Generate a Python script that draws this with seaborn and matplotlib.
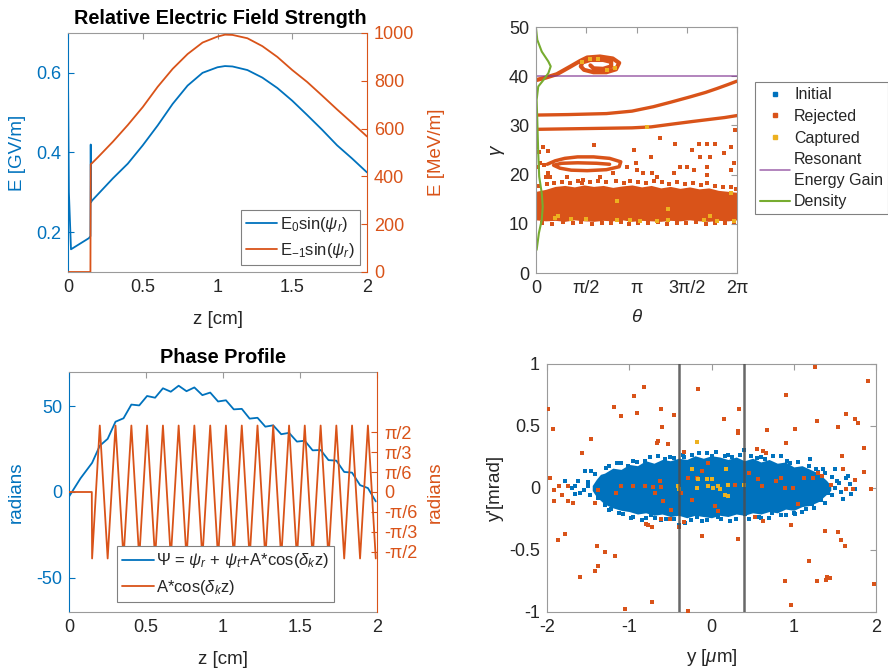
import matplotlib
matplotlib.use("Agg")
import matplotlib.pyplot as plt
import seaborn as sns
from matplotlib.lines import Line2D

sns.set_theme(style="white")
plt.rcParams["font.family"] = ["Liberation Sans", "DejaVu Sans"]
plt.rcParams["mathtext.fontset"] = "custom"
plt.rcParams["mathtext.rm"] = "Liberation Sans"
plt.rcParams["mathtext.it"] = "Liberation Sans:italic"
plt.rcParams["mathtext.bf"] = "Liberation Sans:bold"
plt.rcParams["axes.unicode_minus"] = False

BLUE = "#0072BD"
ORANGE = "#D95319"
YELLOW = "#EDB120"
PURPLE = "#7E2F8E"
GREEN = "#77AC30"
BOX = "#9a9a9a"
TXT = "#262626"

# ---------------- Panel 1: Relative Electric Field Strength ----------------
z_e0 = [0.0, 0.006, 0.02, 0.14, 0.150, 0.152, 0.154, 0.16, 0.2, 0.3, 0.4, 0.5, 0.6, 0.7,
        0.8, 0.9, 1.0, 1.05, 1.1, 1.2, 1.3, 1.4, 1.5, 1.6, 1.7, 1.8, 1.9, 2.0]
e0_gv = [0.595, 0.30, 0.157, 0.185, 0.19, 0.42, 0.275, 0.279, 0.295, 0.335, 0.372, 0.418,
         0.468, 0.522, 0.568, 0.600, 0.614, 0.617, 0.616, 0.607, 0.588, 0.562, 0.530,
         0.494, 0.457, 0.418, 0.385, 0.350]
z_em1 = [0.0, 0.150, 0.152, 0.16, 0.2, 0.3, 0.4, 0.5, 0.6, 0.7, 0.8, 0.9, 1.0, 1.05, 1.1,
         1.2, 1.3, 1.4, 1.5, 1.6, 1.7, 1.8, 1.9, 2.0]
em1_mev = [0, 0, 451, 455, 480, 545, 615, 690, 775, 850, 912, 960, 985, 993, 992, 978,
           945, 900, 845, 795, 738, 680, 624, 567]

# ---------------- Panel 2: Phase Profile ----------------
z_osc = [0.0, 0.148, 0.150, 0.200, 0.251, 0.302, 0.354, 0.405, 0.456, 0.507, 0.559, 0.610,
         0.661, 0.712, 0.763, 0.814, 0.866, 0.917, 0.968, 1.019, 1.070, 1.122, 1.173,
         1.224, 1.275, 1.326, 1.378, 1.429, 1.480, 1.531, 1.582, 1.634, 1.685, 1.736,
         1.787, 1.838, 1.890, 1.941, 1.992]
osc_rad = [0, 0, -1.74, 1.74, -1.74, 1.74, -1.74, 1.74, -1.74, 1.74, -1.74, 1.74, -1.74,
           1.74, -1.74, 1.74, -1.74, 1.74, -1.74, 1.74, -1.74, 1.74, -1.74, 1.74, -1.74,
           1.74, -1.74, 1.74, -1.74, 1.74, -1.74, 1.74, -1.74, 1.74, -1.74, 1.74, -1.74,
           1.74, -1.74]
z_psi = [0.0, 0.075, 0.150, 0.200, 0.251, 0.302, 0.354, 0.405, 0.456, 0.507, 0.559, 0.610,
         0.661, 0.712, 0.763, 0.814, 0.866, 0.917, 0.968, 1.019, 1.070, 1.122, 1.173,
         1.224, 1.275, 1.326, 1.378, 1.429, 1.480, 1.531, 1.582, 1.634, 1.685, 1.736,
         1.787, 1.838, 1.890, 1.941, 1.992]
psi_rad = [-2.7, 8.0, 17.0, 27.0, 31.0, 41.0, 43.0, 51.0, 50.5, 56.0, 55.0, 60.5, 58.5,
           62.0, 58.8, 61.0, 56.5, 58.0, 52.8, 53.5, 48.2, 48.5, 42.8, 43.3, 38.1, 38.9,
           33.7, 34.5, 29.4, 29.9, 24.3, 24.5, 18.6, 18.3, 11.7, 11.3, 4.0, 2.3, -5.5]

# ---------------- Panel 3: longitudinal phase space ----------------
theta_band = [0.0, 0.3, 0.6, 0.9, 1.2, 1.5, 1.8, 2.1, 2.4, 2.7, 3.0, 3.3, 3.6, 3.9, 4.2,
              4.5, 4.8, 5.1, 5.4, 5.7, 6.0, 6.283]
band_top = [16.6, 17.0, 17.6, 17.8, 17.5, 17.9, 17.6, 17.8, 17.4, 17.7, 17.9, 17.5, 17.8,
            17.3, 17.6, 17.2, 17.5, 17.1, 17.3, 16.8, 16.6, 16.4]
band_bot = [10.8, 10.6, 10.7, 10.5, 10.8, 10.6, 10.5, 10.7, 10.6, 10.8, 10.5, 10.7, 10.6,
            10.5, 10.7, 10.6, 10.8, 10.6, 10.5, 10.7, 10.6, 10.8]
edge_theta = [0.1, 0.35, 0.55, 0.8, 1.05, 1.3, 1.45, 1.7, 1.95, 2.2, 2.5, 2.75, 2.95, 3.2,
              3.45, 3.7, 3.95, 4.15, 4.4, 4.65, 4.9, 5.15, 5.35, 5.6, 5.85, 6.1, 6.25,
              0.2, 0.5, 0.85, 1.15, 1.4, 1.75, 2.05, 2.35, 2.65, 2.9, 3.2, 3.5, 3.8, 4.1,
              4.4, 4.7, 5.0, 5.3, 5.6, 5.9, 6.2]
edge_gamma = [17.6, 18.0, 18.3, 18.5, 18.2, 18.6, 18.3, 18.5, 18.7, 18.4, 18.6, 18.3, 18.7,
              18.5, 18.2, 18.6, 18.4, 18.1, 18.5, 18.0, 18.3, 17.9, 18.2, 17.6, 17.4, 17.5,
              17.0, 10.2, 10.0, 10.3, 10.1, 10.3, 10.0, 10.2, 10.1, 10.3, 10.0, 10.2, 10.1,
              10.3, 10.0, 10.2, 10.1, 10.3, 10.0, 10.2, 10.1, 10.3]
mid_theta = [0.02, 0.23, 0.39, 0.13, 0.39, 1.82, 3.05, 3.58, 3.13, 3.36, 3.62, 3.88, 4.35,
             4.87, 5.08, 5.34, 5.60, 5.14, 5.45, 5.34, 5.87, 6.08, 6.18, 6.23, 4.51, 4.72,
             2.84, 3.15, 4.93, 6.08, 3.78, 4.30, 5.34, 0.44, 0.96, 1.48, 2.00, 2.42, 0.1,
             0.25, 0.05, 0.3]
mid_gamma = [25.7, 25.7, 24.7, 22.3, 20.3, 26.0, 24.9, 23.6, 22.3, 20.3, 20.3, 27.4, 26.2,
             24.9, 26.2, 26.2, 26.2, 23.6, 23.6, 21.6, 24.3, 25.7, 22.3, 29.1, 21.6, 21.6,
             21.6, 20.9, 20.9, 20.9, 19.6, 20.3, 19.9, 19.6, 19.6, 18.9, 19.6, 20.3, 24.5,
             22.0, 21.5, 19.5]
track_a_theta = [0.0, 1.0, 2.0, 3.0, 3.6, 4.3, 4.9, 5.4, 5.9, 6.283]
track_a_gamma = [29.2, 29.3, 29.4, 29.5, 29.7, 30.3, 30.8, 31.2, 31.6, 32.0]
track_b_theta = [0.0, 1.0, 2.2, 3.0, 3.67, 4.2, 4.82, 5.3, 5.66, 6.0, 6.283]
track_b_gamma = [32.1, 32.2, 32.4, 32.9, 33.8, 34.7, 35.8, 36.7, 37.5, 38.3, 39.0]
spiral_theta = [0.0, 0.3, 0.65, 1.06, 1.38, 1.6, 2.0, 2.4, 2.6, 2.5, 2.2, 1.8, 1.5, 1.4,
                1.45, 1.7, 2.1, 2.35, 2.35, 2.1, 1.8, 1.7]
spiral_gamma = [39.2, 39.7, 40.4, 41.9, 43.1, 43.8, 44.0, 43.6, 42.7, 41.4, 40.8, 40.8,
                41.3, 42.0, 42.8, 43.3, 43.3, 42.9, 42.0, 41.5, 41.6, 42.2]
ring_theta = [0.35, 0.6, 0.9, 1.3, 1.8, 2.3, 2.65, 2.6, 2.2, 1.6, 1.1, 0.75, 0.55, 0.8,
              1.3, 1.9, 2.3]
ring_gamma = [22.1, 22.8, 23.3, 23.6, 23.6, 23.3, 22.6, 21.6, 21.0, 20.8, 20.9, 21.3, 21.9,
              22.3, 22.4, 22.3, 22.1]
init_theta = [0.0, 6.283]
init_gamma = [12.8, 12.8]
cap_theta = [1.43, 1.69, 1.95, 2.21, 2.47, 0.6, 0.7, 1.09, 2.53, 2.53, 2.94, 3.26, 3.78,
             4.14, 4.14, 5.24, 5.45, 5.66, 6.08, 6.18, 3.47, 1.55]
cap_gamma = [42.9, 43.4, 43.4, 41.2, 41.6, 11.1, 11.5, 10.9, 14.7, 10.8, 10.8, 10.5, 10.5,
             13.0, 10.8, 10.8, 11.5, 10.5, 16.2, 10.5, 29.6, 10.9]
res_theta = [0.0, 6.283]
res_gamma = [40.0, 40.0]
dens_theta = [0.0, 0.04, 0.18, 0.385, 0.46, 0.385, 0.23, 0.07, 0.02, 0.04, 0.07, 0.10,
              0.18, 0.21, 0.18, 0.09, 0.02]
dens_gamma = [49.7, 47.4, 45.0, 43.0, 42.0, 40.6, 39.2, 37.9, 35.2, 31.1, 24.3, 19.6,
              16.2, 13.5, 10.8, 8.1, 4.7]
theta_ticks = ["0", "π/2", "π", "3π/2", "2π"]

# ---------------- Panel 4: transverse phase space ----------------
core_y = [-1.45, -1.4, -1.35, -1.3, -1.2, -1.1, -1.0, -0.9, -0.8, -0.7, -0.6, -0.5, -0.4,
          -0.3, -0.2, -0.1, 0.0, 0.1, 0.2, 0.3, 0.4, 0.5, 0.6, 0.7, 0.8, 0.9, 1.0, 1.1,
          1.2, 1.3, 1.35, 1.4, 1.45]
core_top = [0.02, 0.07, 0.11, 0.12, 0.16, 0.15, 0.19, 0.18, 0.22, 0.20, 0.23, 0.22, 0.24,
            0.23, 0.26, 0.24, 0.26, 0.25, 0.23, 0.25, 0.22, 0.24, 0.21, 0.23, 0.20, 0.21,
            0.17, 0.18, 0.15, 0.12, 0.09, 0.06, 0.02]
core_bot = [-0.02, -0.07, -0.10, -0.13, -0.16, -0.18, -0.19, -0.21, -0.20, -0.22, -0.21,
            -0.23, -0.22, -0.24, -0.22, -0.23, -0.24, -0.22, -0.23, -0.21, -0.22, -0.20,
            -0.21, -0.19, -0.20, -0.17, -0.18, -0.15, -0.14, -0.11, -0.08, -0.05, -0.02]
init_y = [-1.54, -1.46, -1.785, -1.66, -1.50, -1.60, -1.66, -1.38, -1.22, -1.07, -0.85,
          -0.69, -0.32, -0.18, 0.08, 0.41, 0.73, 1.01, 1.22, 1.42, 1.60, 1.74, 1.64, 1.50,
          1.36, 1.20, 1.10, 0.85, 0.65, 0.39, 0.16, -0.06, -0.24, -0.34, -0.57, -0.81,
          -1.01, -1.28, -1.42, -0.40, -0.73,
          -1.1, -0.9, -0.45, 0.0, 0.25, 0.55, 0.95, 1.3, -1.3, -0.95, -0.55, -0.05, 0.3,
          0.6, 0.9, 1.15, 1.33, 1.52, 1.68, -1.7,
          -1.25, -1.15, -0.95, -0.75, -0.65, -0.5, -0.35, -0.15, 0.05, 0.2, 0.35, 0.48,
          0.6, 0.75, 0.92, 1.05, 1.18, 1.27, 1.38, 1.46,
          -1.25, -1.12, -0.98, -0.8, -0.62, -0.45, -0.25, -0.12, 0.12, 0.22, 0.45, 0.58,
          0.7, 0.85, 1.0, 1.1, 1.25, 1.38, 1.47,
          -1.5, -1.55, -1.48, -1.62, 1.5, 1.55, 1.58, 1.66, 1.7]
init_yp = [0.136, 0.136, 0.055, 0.02, 0.015, -0.04, -0.05, -0.08, -0.17, -0.21, -0.255,
           -0.24, -0.28, -0.235, -0.23, -0.21, -0.20, -0.21, -0.125, -0.04, -0.09, -0.01,
           0.08, 0.15, 0.15, 0.23, 0.15, 0.26, 0.23, 0.31, 0.26, 0.28, 0.27, 0.25, 0.23,
           0.22, 0.18, 0.16, 0.11, -0.30, -0.22,
           0.20, 0.21, 0.24, 0.26, 0.25, 0.24, 0.20, 0.13, -0.14, -0.23, -0.25, -0.26,
           -0.25, -0.24, -0.22, -0.17, -0.10, 0.06, 0.03, 0.0,
           0.18, 0.2, 0.22, 0.25, 0.26, 0.25, 0.27, 0.28, 0.29, 0.27, 0.27, 0.26,
           0.25, 0.26, 0.22, 0.21, 0.18, 0.15, 0.12, 0.09,
           -0.18, -0.2, -0.24, -0.24, -0.26, -0.25, -0.26, -0.27, -0.25, -0.27, -0.25,
           -0.23, -0.24, -0.22, -0.2, -0.19, -0.16, -0.12, -0.06,
           0.05, -0.02, -0.06, 0.06, 0.0, 0.04, -0.03, 0.1, -0.05]
rej_y = [-1.99, -1.93, -1.96, -1.91, -1.85, -1.74, -1.82, -1.91, -1.74, -1.68, -1.87, -1.78,
         -1.60, -1.42, -1.38, -1.39, -1.30, -1.17, -1.58, -1.46, -1.18, -1.10, -0.94, -0.82,
         -0.91, -0.62, -0.60, -0.65, -0.66, -0.53, -0.46, -0.80, -0.77, -0.72, -0.39,
         -0.33, -0.72, -1.055, -0.29, -0.16, 0.15, 0.32, 0.325, 0.34, -0.11, 0.325, -0.34,
         -0.04, 0.55, 0.63, 0.66, 0.67, 0.91, 1.02, 0.90, 0.97, 0.97, 0.89, 1.18, 1.28,
         1.26, 1.28, 1.38, 1.41, 1.44, 1.39, 1.54, 1.54, 1.57, 1.60, 1.62, 1.64, 1.75,
         1.78, 1.86, 1.90, 1.85, 1.94, 1.97, 1.59, 1.74, 1.72, 1.63, 1.30, 1.34, 1.45,
         -1.10, -0.95, -0.81, -0.71, -0.62, -0.69, -0.59, -0.49, -0.61, -0.51, -1.38,
         -1.42, -1.16, -0.37, -0.24, -0.12, -0.28, -0.18, 0.04, 0.08, 0.45, 0.57, 0.62,
         0.79, 0.85, 0.89, 0.99, 1.05, 1.12, 1.24, 0.53, 0.63, -0.63, 0.28, 0.18]
rej_yp = [0.636, 0.474, 0.082, -0.018, 0.02, 0.015, -0.053, -0.107, -0.107, -0.12, -0.417,
          -0.368, -0.72, -0.673, -0.633, -0.47, -0.52, -0.547, 0.28, 0.393, 0.655, 0.582,
          0.744, 0.814, 0.603, 0.636, 0.495, 0.379, 0.36, 0.352, 0.587, -0.287, -0.30,
          -0.317, -0.317, -0.277, -0.916, -0.978, -0.989, 0.798, 0.56, 0.46, 0.44, 0.64,
          -0.385, -0.41, 0.293, 0.204, 0.312, 0.298, 0.285, 0.468, 0.36, 0.474, 0.749,
          -0.296, -0.943, -0.746, -0.587, 0.541, 0.973, -0.746, -0.35, -0.714, -0.727,
          -0.74, 0.495, -0.358, -0.417, 0.15, -0.47, 0.595, 0.56, 0.522, 0.325, 0.865,
          0.128, -0.012, -0.773, 0.258, 0.063, -0.012, -0.012, 0.123, 0.096, 0.028,
          0.02, 0.015, 0.015, 0.01, 0.01, -0.04, -0.107, -0.18, -0.25, -0.25, -0.018,
          -0.12, -0.04, -0.04, -0.093, 0.136, 0.082, 0.082, -0.147, -0.188, 0.123, 0.069,
          0.015, 0.055, 0.082, 0.001, 0.001, -0.125, 0.082, 0.082, -0.233, -0.263, 0.055,
          0.028, 0.15]
cap_y = [-0.18, -0.24, -0.39, -0.41, -0.06, -0.04, 0.02, 0.08, 0.18, 0.20, 0.16, 0.20,
         -0.18, -0.16, 0.40, 0.0, 0.10]
cap_yp = [0.371, 0.15, -0.012, 0.015, 0.069, 0.015, 0.001, 0.015, 0.15, 0.028, -0.053,
          -0.066, 0.001, 0.069, 0.028, 0.069, -0.01]
guide_y = [-0.4, 0.4]

# ====================================================================
fig = plt.figure(figsize=(8.88, 6.70), dpi=100)
FS = 13


def box_style(ax):
    for s in ax.spines.values():
        s.set_color(BOX)
        s.set_linewidth(0.8)
    ax.tick_params(direction="in", length=4, width=0.8, color=BOX, labelcolor=TXT,
                   labelsize=FS, top=True, right=True, pad=5)


def yy_style(ax, ax2, lc, rc):
    for s in ax.spines.values():
        s.set_color(BOX)
        s.set_linewidth(0.8)
    ax.spines["left"].set_color(lc)
    ax.spines["right"].set_visible(False)
    for k in ["left", "top", "bottom"]:
        ax2.spines[k].set_visible(False)
    ax2.spines["right"].set_color(rc)
    ax2.spines["right"].set_linewidth(0.8)
    ax.tick_params(axis="x", direction="in", length=4, width=0.8, color=BOX,
                   labelcolor=TXT, labelsize=FS, top=True, pad=5)
    ax.tick_params(axis="y", direction="in", length=4, width=0.8, color=lc,
                   labelcolor=lc, labelsize=FS, right=False, pad=5)
    ax2.tick_params(axis="y", direction="in", length=4, width=0.8, color=rc,
                    labelcolor=rc, labelsize=FS, pad=5)


def ylab(ax, text, x, color=TXT):
    ax.set_ylabel(text, fontsize=FS + 0.5, color=color)
    ax.yaxis.set_label_coords(x, 0.5)
    ax.yaxis.label.set_verticalalignment("center")
    ax.yaxis.label.set_rotation(90)


def xlab(ax, text, y):
    ax.set_xlabel(text, fontsize=FS + 0.5, color=TXT)
    ax.xaxis.set_label_coords(0.5, y)
    ax.xaxis.label.set_verticalalignment("center")


# ---------- Panel 1 ----------
ax1 = fig.add_axes([68 / 888, 1 - 272 / 670, 299 / 888, 239 / 670])
ax1b = ax1.twinx()
sns.lineplot(x=z_e0, y=e0_gv, ax=ax1, color=BLUE, linewidth=1.3, estimator=None,
             sort=False, legend=False)
sns.lineplot(x=z_em1, y=em1_mev, ax=ax1b, color=ORANGE, linewidth=1.3, estimator=None,
             sort=False, legend=False)
ax1.set_xlim(0, 2)
ax1.set_ylim(0.1, 0.7)
ax1b.set_ylim(0, 1000)
ax1.set_xticks([0, 0.5, 1, 1.5, 2])
ax1.set_xticklabels(["0", "0.5", "1", "1.5", "2"])
ax1.set_yticks([0.2, 0.4, 0.6])
ax1b.set_yticks([0, 200, 400, 600, 800, 1000])
yy_style(ax1, ax1b, BLUE, ORANGE)
xlab(ax1, "z [cm]", -0.20)
ylab(ax1, "E [GV/m]", -0.168, BLUE)
ax1b.set_ylabel("E [MeV/m]", fontsize=FS + 0.5, color=ORANGE)
ax1b.yaxis.set_label_coords(1.232, 0.5)
ax1b.yaxis.label.set_verticalalignment("center")
ax1b.yaxis.label.set_rotation(90)
ax1.text(0.508, 1.06, "Relative Electric Field Strength", transform=ax1.transAxes,
         ha="center", va="center", fontsize=14.3, fontweight="bold", color="black")
h1 = [Line2D([], [], color=BLUE, lw=1.3), Line2D([], [], color=ORANGE, lw=1.3)]
leg1 = ax1b.legend(h1, [r"E$_0$sin($\psi_r$)", r"E$_{-1}$sin($\psi_r$)"],
                   loc="lower right", bbox_to_anchor=(0.975, 0.028), borderaxespad=0,
                   fontsize=12, frameon=True, fancybox=False, framealpha=1,
                   edgecolor="#808080", handlelength=1.9, handletextpad=0.15,
                   labelspacing=0.45, borderpad=0.3)
leg1.get_frame().set_linewidth(0.8)

# ---------- Panel 2 ----------
ax2 = fig.add_axes([69 / 888, 1 - 612 / 670, 308 / 888, 240 / 670])
ax2b = ax2.twinx()
sns.lineplot(x=z_osc, y=osc_rad, ax=ax2b, color=ORANGE, linewidth=1.3, estimator=None,
             sort=False, legend=False)
sns.lineplot(x=z_psi, y=psi_rad, ax=ax2, color=BLUE, linewidth=1.3, estimator=None,
             sort=False, legend=False)
ax2.set_xlim(0, 2)
ax2.set_ylim(-70, 70)
ax2b.set_ylim(-3.1416, 3.1416)
ax2.set_xticks([0, 0.5, 1, 1.5, 2])
ax2.set_xticklabels(["0", "0.5", "1", "1.5", "2"])
ax2.set_yticks([-50, 0, 50])
pi = 3.14159265
ax2b.set_yticks([-pi / 2, -pi / 3, -pi / 6, 0, pi / 6, pi / 3, pi / 2])
ax2b.set_yticklabels(["-π/2", "-π/3", "-π/6", "0", "π/6", "π/3", "π/2"])
yy_style(ax2, ax2b, BLUE, ORANGE)
xlab(ax2, "z [cm]", -0.20)
ylab(ax2, "radians", -0.172, BLUE)
ax2b.set_ylabel("radians", fontsize=FS + 0.5, color=ORANGE)
ax2b.yaxis.set_label_coords(1.19, 0.5)
ax2b.yaxis.label.set_verticalalignment("center")
ax2b.yaxis.label.set_rotation(90)
ax2.text(0.5, 1.06, "Phase Profile", transform=ax2.transAxes, ha="center",
         va="center", fontsize=14.3, fontweight="bold", color="black")
h2 = [Line2D([], [], color=BLUE, lw=1.3), Line2D([], [], color=ORANGE, lw=1.3)]
leg2 = ax2b.legend(h2, [r"$\Psi$ = $\psi_r$ + $\psi_t$+A*cos($\delta_k$z)",
                        r"A*cos($\delta_k$z)"],
                   loc="lower left", bbox_to_anchor=(0.156, 0.042), borderaxespad=0,
                   fontsize=12, frameon=True, fancybox=False, framealpha=1,
                   edgecolor="#808080", handlelength=1.9, handletextpad=0.15,
                   labelspacing=0.45, borderpad=0.3)
leg2.get_frame().set_linewidth(0.8)

# ---------- Panel 3 ----------
ax3 = fig.add_axes([536 / 888, 1 - 273 / 670, 201 / 888, 246 / 670])
sns.scatterplot(x=init_theta, y=init_gamma, ax=ax3, color=BLUE, marker="s", s=8,
                linewidth=0, legend=False)
ax3.fill_between(theta_band, band_bot, band_top, color=ORANGE, linewidth=0)
sns.scatterplot(x=edge_theta, y=edge_gamma, ax=ax3, color=ORANGE, marker="s", s=8,
                linewidth=0, legend=False)
sns.scatterplot(x=mid_theta, y=mid_gamma, ax=ax3, color=ORANGE, marker="s", s=9,
                linewidth=0, legend=False)
for tx, ty, lw in [(track_a_theta, track_a_gamma, 2.4), (track_b_theta, track_b_gamma, 2.4),
                   (spiral_theta, spiral_gamma, 3.0), (ring_theta, ring_gamma, 2.5)]:
    sns.lineplot(x=tx, y=ty, ax=ax3, color=ORANGE, linewidth=lw, estimator=None,
                 sort=False, legend=False)
sns.scatterplot(x=cap_theta, y=cap_gamma, ax=ax3, color=YELLOW, marker="s", s=8,
                linewidth=0, legend=False, zorder=5)
sns.lineplot(x=res_theta, y=res_gamma, ax=ax3, color=PURPLE, linewidth=1.1, alpha=0.75,
             estimator=None, sort=False, legend=False)
sns.lineplot(x=dens_theta, y=dens_gamma, ax=ax3, color=GREEN, linewidth=1.5,
             estimator=None, sort=False, legend=False)
ax3.set_xlim(0, 2 * pi)
ax3.set_ylim(0, 50)
ax3.set_xticks([0, pi / 2, pi, 3 * pi / 2, 2 * pi])
ax3.set_xticklabels(theta_ticks)
ax3.set_yticks([0, 10, 20, 30, 40, 50])
box_style(ax3)
xlab(ax3, r"$\theta$", -0.18)
ylab(ax3, r"$\gamma$", -0.19)
h3 = [Line2D([], [], color=BLUE, marker="s", ls="none", markersize=2.5),
      Line2D([], [], color=ORANGE, marker="s", ls="none", markersize=2.5),
      Line2D([], [], color=YELLOW, marker="s", ls="none", markersize=2.5),
      Line2D([], [], color=PURPLE, lw=1.1, alpha=0.75),
      Line2D([], [], color=GREEN, lw=1.5)]
leg3 = ax3.legend(h3, ["Initial", "Rejected", "Captured", "Resonant\nEnergy Gain",
                       "Density"],
                  loc="upper left", bbox_to_anchor=(1.09, 0.775), borderaxespad=0,
                  fontsize=11.5, frameon=True, fancybox=False, framealpha=1,
                  edgecolor="#808080", handlelength=1.9, handletextpad=0.25,
                  labelspacing=0.42, borderpad=0.3)
leg3.get_frame().set_linewidth(0.8)
for t in leg3.get_texts():
    t.set_linespacing(1.45)

# ---------- Panel 4 ----------
ax4 = fig.add_axes([547 / 888, 1 - 612 / 670, 329 / 888, 248 / 670])
ax4.fill_between(core_y, core_bot, core_top, color=BLUE, linewidth=0)
sns.scatterplot(x=init_y, y=init_yp, ax=ax4, color=BLUE, marker="s", s=10, linewidth=0,
                legend=False)
sns.scatterplot(x=rej_y, y=rej_yp, ax=ax4, color=ORANGE, marker="s", s=10, linewidth=0,
                legend=False, zorder=4)
sns.scatterplot(x=cap_y, y=cap_yp, ax=ax4, color=YELLOW, marker="s", s=10, linewidth=0,
                legend=False, zorder=5)
for gy in guide_y:
    ax4.axvline(gy, color="#4d4d4d", linewidth=1.8, alpha=0.85, zorder=6)
ax4.set_xlim(-2, 2)
ax4.set_ylim(-1, 1)
ax4.set_xticks([-2, -1, 0, 1, 2])
ax4.set_yticks([-1, -0.5, 0, 0.5, 1])
ax4.set_yticklabels(["-1", "-0.5", "0", "0.5", "1"])
box_style(ax4)
xlab(ax4, r"y [$\mu$m]", -0.185)
ylab(ax4, "y'[mrad]", -0.158)

fig.savefig("out.png", dpi=100)
